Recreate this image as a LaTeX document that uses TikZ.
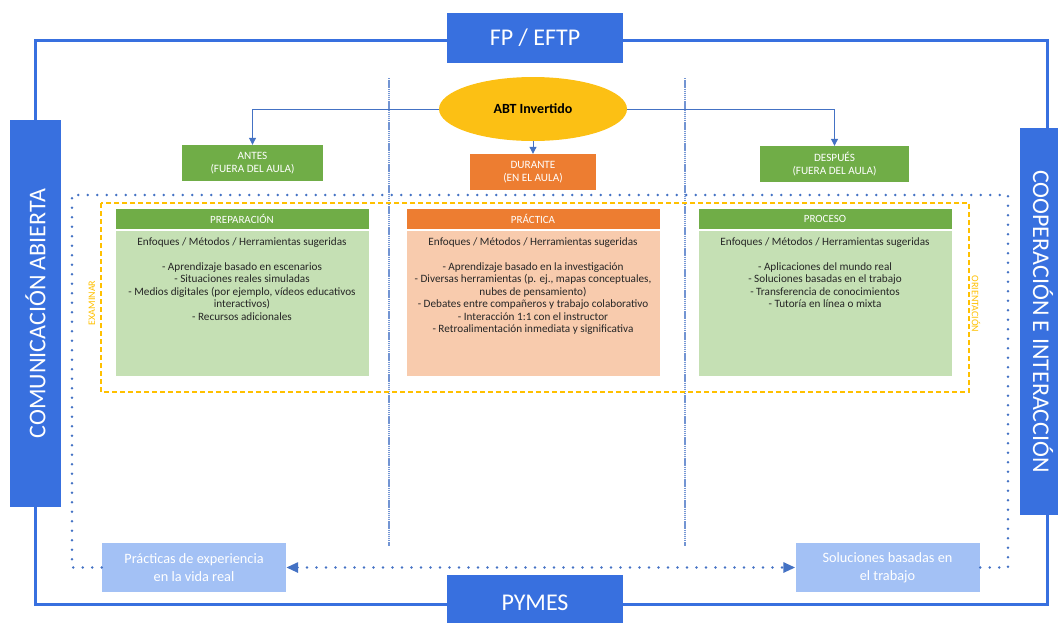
\documentclass[tikz,border=0pt]{standalone}
\usepackage{fontspec}
\setmainfont{Carlito}
\usetikzlibrary{positioning,shapes.geometric,arrows.meta}
\definecolor{frameblue}{HTML}{3870DF}
\definecolor{lineblue}{HTML}{4472C4}
\definecolor{paleblue}{HTML}{A3C1F5}
\definecolor{leafgreen}{HTML}{70AD47}
\definecolor{palegreen}{HTML}{C5E0B4}
\definecolor{rustorange}{HTML}{ED7D31}
\definecolor{paleorange}{HTML}{F8CBAD}
\definecolor{gold}{HTML}{FFC000}
\definecolor{yolk}{HTML}{FCC014}

\begin{document}
\begin{tikzpicture}[x=1pt,y=-1pt,
    bluebox/.style={fill=frameblue, text=white, inner sep=0pt, font=\fontsize{24}{28}\selectfont},
    frame/.style={frameblue, line width=3pt},
    phase/.style={fill=#1, text=white, align=center, inner sep=0pt, minimum height=36pt, font=\fontsize{11.2}{13}\selectfont},
    head/.style={fill=#1, text=white, inner sep=0pt, minimum width=253pt, minimum height=20pt, font=\fontsize{11}{13}\selectfont},
    body/.style={fill=#1, inner sep=0pt, minimum width=253pt, minimum height=145pt},
    bodytext/.style={align=center, inner sep=0pt, text=black!85, font=\fontsize{11.2}{12.5}\selectfont},
    link/.style={lineblue, line width=1pt, -{Triangle[length=7pt,width=7pt]}},
    divider/.style={lineblue!75, line width=1.1pt, dash pattern=on 1.4pt off 0.7pt},
    dotline/.style={lineblue, line width=2.8pt, line cap=round, dash pattern=on 0pt off 9.5pt},
    gapbox/.style={fill=paleblue, text=white, align=center, inner sep=0pt, minimum width=184pt, minimum height=49pt, font=\fontsize{14.3}{18}\selectfont},
    side/.style={text=gold, inner sep=0pt, font=\fontsize{10}{12}\selectfont}]

    \useasboundingbox (0,0) rectangle (1058,622);

    \coordinate (nw) at (35,40);
    \coordinate (ne) at (1047,40);
    \coordinate (sw) at (35,604);
    \coordinate (se) at (1047,604);
    \coordinate (dl) at (72,195);
    \coordinate (dr) at (1008,195);

    \draw[divider] (389,78) -- (389,546);
    \draw[divider] (685,78) -- (685,546);
    \draw[gold, line width=2.2pt, dash pattern=on 5pt off 3pt] (101,203) rectangle (969,392);

    \node[bluebox, minimum width=176pt, minimum height=50pt] (fp) at (535,38) {FP / EFTP};
    \node[bluebox, minimum width=176pt, minimum height=56pt] (pymes) at (535,603) {PYMES};
    \node[bluebox, rotate=90, minimum width=387pt, minimum height=51pt] (open) at (35.5,313.5) {COMUNICACIÓN ABIERTA};
    \node[bluebox, rotate=-90, minimum width=387pt, minimum height=46pt] (coop) at (1043,321.5) {COOPERACIÓN E INTERACCIÓN};

    \draw[frame] (fp.west |- nw) -- (nw) -- (nw |- open.east);
    \draw[frame] (nw |- open.west) -- (sw) -- (sw -| pymes.west);
    \draw[frame] (sw -| pymes.east) -- (se) -- (se |- coop.east);
    \draw[frame] (ne |- coop.west) -- (ne) -- (fp.east |- ne);

    \node[ellipse, fill=yolk, inner sep=0pt, minimum width=188pt, minimum height=64pt, font=\bfseries\fontsize{14}{16}\selectfont] (abt) at (533,109) {ABT Invertido};
    \node[phase=leafgreen, minimum width=141pt] (before) at (252.5,163) {ANTES\\(FUERA DEL AULA)};
    \node[phase=rustorange, minimum width=126pt] (during) at (533,172) {DURANTE\\(EN EL AULA)};
    \node[phase=leafgreen, minimum width=149pt] (after) at (834.5,164) {DESPUÉS\\(FUERA DEL AULA)};

    \draw[link] (abt.west) -| (before.north);
    \draw[link] (abt.south) -- (during.north);
    \draw[link] (abt.east) -| (after.north);

    \node[head=leafgreen] (prephead) at (242,219) {PREPARACIÓN};
    \node[body=palegreen, below=2pt of prephead] (prepbody) {};
    \node[bodytext, below=6pt of prepbody.north] (preptext) {Enfoques / Métodos / Herramientas sugeridas\\[12.5pt]
        - Aprendizaje basado en escenarios\\
        - Situaciones reales simuladas\\
        - Medios digitales (por ejemplo, vídeos educativos\\
        interactivos)\\
        - Recursos adicionales};

    \node[head=rustorange] (prachead) at (533,219) {PRÁCTICA};
    \node[body=paleorange, below=2pt of prachead] (pracbody) {};
    \node[bodytext, below=6pt of pracbody.north] (practext) {Enfoques / Métodos / Herramientas sugeridas\\[12.5pt]
        - Aprendizaje basado en la investigación\\
        - Diversas herramientas (p. ej., mapas conceptuales,\\
        nubes de pensamiento)\\
        - Debates entre compañeros y trabajo colaborativo\\
        - Interacción 1:1 con el instructor\\
        - Retroalimentación inmediata y significativa};

    \node[head=leafgreen] (prochead) at (825,219) {PROCESO};
    \node[body=palegreen, below=2pt of prochead] (procbody) {};
    \node[bodytext, below=6pt of procbody.north] (proctext) {Enfoques / Métodos / Herramientas sugeridas\\[12.5pt]
        - Aplicaciones del mundo real\\
        - Soluciones basadas en el trabajo\\
        - Transferencia de conocimientos\\
        - Tutoría en línea o mixta};

    \node[side, rotate=90] (examine) at (92,303) {EXAMINAR};
    \node[side, rotate=-90] (guide) at (976,304) {ORIENTACIÓN};

    \node[gapbox] (prac) at (194,567.5) {Prácticas de experiencia\\en la vida real};
    \node[gapbox] (sol) at (887.5,567.5) {Soluciones basadas en\\el trabajo};

    \draw[dotline] (prac.west) -| (dl) -- (dr) |- (sol.east);
    \draw[dotline, {Triangle[length=12pt,width=10pt]}-{Triangle[length=12pt,width=10pt]}] (prac.east) -- (sol.west);
\end{tikzpicture}
\end{document}
